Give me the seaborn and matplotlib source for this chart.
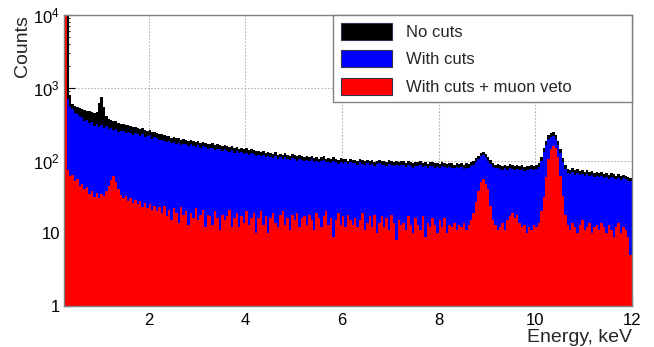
import numpy as np
import pandas as pd
import matplotlib
matplotlib.use("Agg")
import matplotlib.pyplot as plt
from matplotlib.patches import Patch
from matplotlib.ticker import FixedLocator, FuncFormatter, LogLocator, NullFormatter
import seaborn as sns

# energy binning (keV), 0.05 keV bins from 0.25 to 12
e_lo = 0.25
e_hi = 12.0
n_bins = 235

# counts per bin; one line = 1 keV
# (the first bins run off the top of the plot)
no_cuts = [
    12000, 12000, 800, 600, 570, 545, 520, 510, 495, 485, 472, 460, 452, 470, 610, 740, 540, 405, 372, 360,
    345, 352, 330, 322, 318, 305, 310, 298, 288, 292, 280, 272, 276, 262, 258, 262, 246, 250, 240, 232,
    228, 222, 215, 220, 206, 210, 202, 206, 194, 198, 192, 186, 194, 184, 180, 186, 174, 180, 174, 168,
    170, 172, 162, 168, 162, 156, 164, 156, 152, 158, 148, 154, 146, 150, 143, 147, 139, 144, 140, 133,
    134, 130, 135, 125, 129, 127, 123, 129, 120, 124, 118, 126, 120, 116, 122, 118, 114, 120, 116, 111,
    115, 111, 117, 108, 112, 106, 110, 114, 106, 108, 104, 110, 106, 101, 108, 104, 106, 100, 105, 102,
    103, 99, 105, 101, 97, 103, 99, 101, 95, 100, 102, 97, 99, 95, 101, 97, 94, 99, 96, 97,
    97, 93, 98, 95, 91, 96, 94, 97, 92, 95, 90, 94, 96, 91, 93, 89, 95, 92, 90, 93,
    91, 88, 93, 90, 92, 87, 91, 90, 94, 99, 107, 117, 127, 130, 123, 111, 101, 92, 88, 90,
    87, 84, 88, 85, 89, 86, 83, 87, 84, 86, 82, 85, 84, 87, 83, 86, 93, 113, 148, 188,
    222, 240, 245, 226, 188, 142, 108, 87, 77, 75, 78, 73, 76, 72, 75, 70, 74, 69, 72, 68,
    70, 67, 69, 66, 68, 64, 67, 65, 62, 66, 61, 64, 62, 60, 58,
]

with_cuts = [
    12000, 690, 545, 510, 445, 440, 392, 400, 352, 362, 325, 338, 300, 318, 292, 305, 278, 296, 270, 280,
    262, 270, 248, 255, 258, 236, 244, 240, 222, 238, 228, 216, 230, 212, 214, 222, 200, 208, 204, 190,
    192, 186, 180, 188, 174, 178, 170, 176, 164, 170, 166, 158, 168, 160, 154, 162, 150, 158, 152, 146,
    148, 150, 140, 146, 142, 134, 144, 136, 132, 138, 128, 134, 126, 130, 124, 128, 120, 126, 122, 114,
    118, 114, 120, 110, 114, 112, 108, 114, 106, 110, 104, 112, 106, 102, 108, 104, 100, 106, 102, 98,
    102, 98, 104, 96, 100, 94, 98, 102, 94, 96, 92, 98, 94, 90, 96, 92, 95, 89, 94, 91,
    92, 88, 94, 90, 86, 92, 88, 90, 84, 89, 91, 86, 88, 84, 90, 86, 83, 88, 85, 86,
    86, 82, 87, 84, 80, 85, 83, 86, 81, 84, 79, 83, 85, 80, 82, 78, 84, 81, 79, 82,
    80, 78, 82, 79, 81, 77, 80, 79, 83, 88, 96, 106, 116, 119, 112, 100, 90, 82, 78, 80,
    77, 74, 78, 75, 79, 76, 73, 77, 74, 76, 72, 75, 74, 77, 73, 76, 82, 100, 130, 165,
    195, 212, 215, 198, 165, 125, 95, 76, 68, 66, 69, 64, 67, 63, 66, 62, 65, 61, 64, 60,
    62, 59, 61, 58, 60, 56, 59, 57, 55, 58, 54, 57, 55, 53, 52,
]

with_veto = [
    12000, 74, 62, 64, 52, 55, 44, 47, 40, 43, 35, 38, 32, 36, 31, 35, 33, 38, 44, 54,
    61, 50, 40, 34, 31, 33, 28, 31, 26, 29, 25, 28, 23, 26, 22, 25, 21, 24, 20, 23,
    19, 24, 17, 21, 15, 22, 19, 14, 23, 18, 20, 13, 19, 16, 22, 15, 18, 21, 12, 18,
    17, 13, 20, 16, 11, 18, 15, 17, 21, 12, 16, 19, 12, 17, 14, 20, 13, 16, 19, 10,
    16, 20, 13, 17, 10, 16, 19, 14, 12, 18, 20, 13, 16, 11, 18, 15, 19, 12, 16, 17,
    13, 18, 15, 11, 19, 16, 12, 17, 20, 13, 16, 9, 15, 19, 13, 17, 12, 18, 15, 13,
    16, 12, 15, 19, 11, 14, 17, 12, 18, 10, 14, 17, 12, 16, 11, 18, 14, 8, 15, 13,
    14, 11, 17, 13, 10, 16, 13, 11, 17, 9, 14, 12, 16, 13, 10, 15, 12, 16, 10, 13,
    12, 14, 11, 13, 12, 14, 11, 13, 15, 19, 27, 38, 50, 56, 48, 40, 24, 15, 13, 11,
    12, 14, 11, 15, 17, 19, 16, 18, 14, 12, 13, 10, 12, 11, 13, 12, 14, 20, 32, 60,
    105, 145, 160, 150, 110, 62, 33, 18, 13, 11, 14, 12, 10, 13, 15, 11, 12, 14, 10, 12,
    13, 11, 14, 12, 10, 13, 11, 9, 12, 14, 10, 12, 11, 9, 5,
]

labels = ["No cuts", "With cuts", "With cuts + muon veto"]
colors = ["#000000", "#0000ff", "#ff0000"]

edges = np.linspace(e_lo, e_hi, n_bins + 1)
centers = 0.5 * (edges[:-1] + edges[1:])

sns.set_theme(style="white")
plt.rcParams["font.family"] = ["Liberation Sans", "DejaVu Sans"]
plt.rcParams["mathtext.fontset"] = "custom"
plt.rcParams["mathtext.rm"] = "Liberation Sans"
plt.rcParams["mathtext.it"] = "Liberation Sans"

fig = plt.figure(figsize=(6.54, 3.47), dpi=100)
ax = fig.add_axes([64 / 654, 1 - 306 / 347, 568 / 654, 291 / 347])

for vals, col in zip([no_cuts, with_cuts, with_veto], colors):
    df = pd.DataFrame({"energy": centers, "counts": vals})
    sns.histplot(data=df, x="energy", weights="counts", bins=n_bins, binrange=(e_lo, e_hi),
                 element="bars", fill=True, shrink=1, color=col, alpha=1, linewidth=0,
                 antialiased=False, ax=ax)

ax.set_yscale("log")
# tiny margin so the first bin does not sit exactly on the clip edge
ax.set_xlim(e_lo - 0.002, e_hi + 0.002)
ax.set_ylim(1, 1e4)

ax.xaxis.set_major_locator(FixedLocator([2, 4, 6, 8, 10, 12]))
ax.yaxis.set_major_locator(FixedLocator([1, 10, 100, 1000, 10000]))
ax.yaxis.set_minor_locator(LogLocator(base=10, subs=np.arange(2, 10)))
ax.yaxis.set_minor_formatter(NullFormatter())


def ylab(v, pos):
    p = int(round(np.log10(v)))
    if p == 0:
        return "1"
    if p == 1:
        return "10"
    return "10$^{%d}$" % p


ax.yaxis.set_major_formatter(FuncFormatter(ylab))
ax.tick_params(axis="both", which="major", direction="in", labelsize=12, colors="black",
               length=8, width=0.8, left=True, bottom=True)
ax.tick_params(axis="y", which="minor", direction="in", length=4, width=0.8, left=True)
ax.tick_params(axis="x", pad=5)
ax.tick_params(axis="y", pad=3)

ax.grid(True, which="major", color="#b4b4b4", linestyle=(0, (1.5, 1.5)), linewidth=0.8)
ax.set_axisbelow(True)
for s in ax.spines.values():
    s.set_color("#808080")
    s.set_linewidth(1.0)

ax.set_xlabel("Energy, keV", fontsize=14, loc="right")
ax.xaxis.set_label_coords(1.0, -0.08)
ax.set_ylabel("Counts", fontsize=14, loc="top")
ax.yaxis.set_label_coords(-0.058, 1.0)

handles = [Patch(facecolor=c, edgecolor="#33334d", linewidth=0.8, label=l)
           for c, l in zip(colors, labels)]
leg = ax.legend(handles=handles, loc="upper left", bbox_to_anchor=(0.4736, 1.0, 0.5264, 0.0),
                mode="expand", borderaxespad=0, frameon=True, fancybox=False,
                edgecolor="#808080", framealpha=1, fontsize=12, handlelength=3.1,
                handleheight=1.2, labelspacing=0.62, handletextpad=0.8, borderpad=0.45)
leg.get_frame().set_linewidth(1.0)

fig.savefig("out.png", dpi=100)
